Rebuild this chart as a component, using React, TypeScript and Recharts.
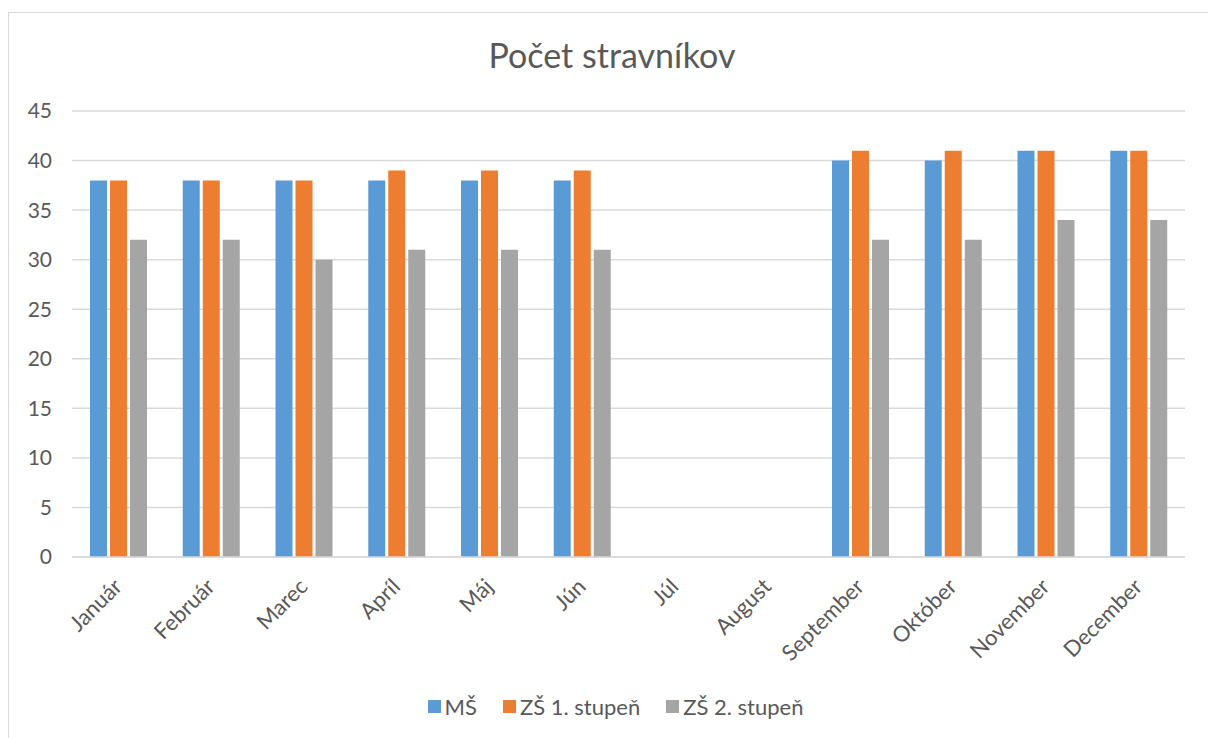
import React from 'react'
import { BarChart, Bar, XAxis, YAxis, CartesianGrid, Legend } from 'recharts'

const months = ['Január', 'Február', 'Marec', 'Apríl', 'Máj', 'Jún', 'Júl', 'August', 'September', 'Október', 'November', 'December']
const ms     = [38, 38, 38, 38, 38, 38, null, null, 40, 40, 41, 41]
const zs1    = [38, 38, 38, 39, 39, 39, null, null, 41, 41, 41, 41]
const zs2    = [32, 32, 30, 31, 31, 31, null, null, 32, 32, 34, 34]
const yTicks = [0, 5, 10, 15, 20, 25, 30, 35, 40, 45]

const data = months.map((m, i) => ({ month: m, ms: ms[i], zs1: zs1[i], zs2: zs2[i] }))

const FONT = "Lato, 'Open Sans', sans-serif"
const TEXT = '#595959'
const GRIDC = '#d9d9d9'

const MonthTick = (props: any) => {
  const { x, y, payload } = props
  return (
    <text
      x={x + 5}
      y={y + 23}
      transform={`rotate(-45 ${x + 5} ${y + 23})`}
      textAnchor="end"
      fill={TEXT}
      fontSize={22}
      fontFamily={FONT}
    >
      {payload.value}
    </text>
  )
}

const LegendBox = (props: any) => {
  const { payload } = props
  return (
    <div style={{ display: 'flex', justifyContent: 'center', gap: 26, paddingLeft: 46, fontFamily: FONT, fontSize: 22, color: TEXT }}>
      {payload.map((p: any) => (
        <span key={p.value} style={{ display: 'flex', alignItems: 'center' }}>
          <span style={{ width: 13, height: 13, background: p.color, marginRight: 4, display: 'inline-block' }} />
          {p.value}
        </span>
      ))}
    </div>
  )
}

export default function App() {
  return (
    <div style={{ position: 'absolute', left: 0, top: 0, width: 1208, height: 738, background: '#fff', overflow: 'hidden' }}>
      <div style={{ position: 'absolute', left: 8, top: 12, width: 1220, height: 760, border: `1px solid ${GRIDC}` }} />
      <div style={{ position: 'absolute', left: 0, top: 34, width: 1224, textAlign: 'center', fontFamily: FONT, fontSize: 34, color: TEXT }}>
        Počet stravníkov
      </div>
      <BarChart width={1208} height={738} data={data} margin={{ top: 111, right: 23, left: 0, bottom: 18 }} barSize={17} barGap={3}>
        <CartesianGrid vertical={false} stroke={GRIDC} strokeWidth={1.5} />
        <XAxis dataKey="month" tick={<MonthTick />} tickLine={false} axisLine={{ stroke: GRIDC, strokeWidth: 1.5 }} interval={0} height={136} />
        <YAxis
          domain={[0, 45]}
          ticks={yTicks}
          width={72}
          axisLine={false}
          tickLine={false}
          tickSize={0}
          tickMargin={20}
          tick={{ fill: TEXT, fontSize: 21, fontFamily: FONT }}
        />
        <Legend content={<LegendBox />} verticalAlign="bottom" />
        <Bar dataKey="ms" name="MŠ" fill="#5b9bd5" isAnimationActive={false} />
        <Bar dataKey="zs1" name="ZŠ 1. stupeň" fill="#ed7d31" isAnimationActive={false} />
        <Bar dataKey="zs2" name="ZŠ 2. stupeň" fill="#a5a5a5" isAnimationActive={false} />
      </BarChart>
    </div>
  )
}
